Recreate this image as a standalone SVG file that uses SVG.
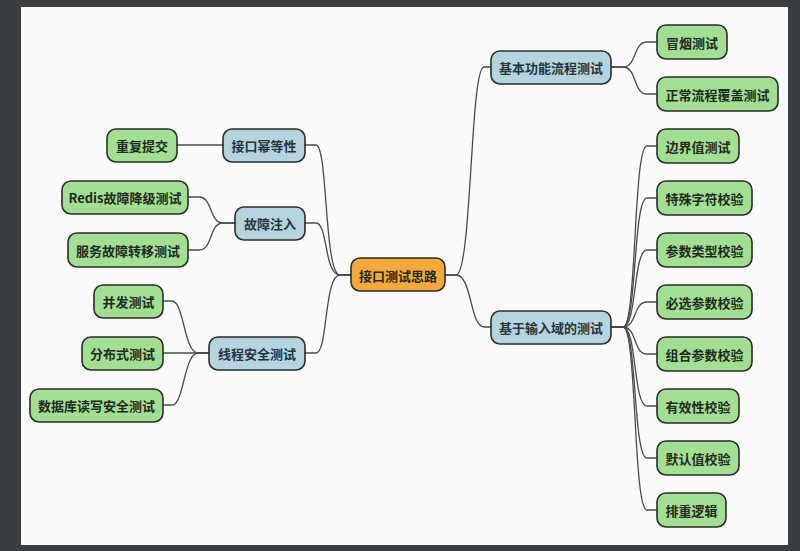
<svg xmlns="http://www.w3.org/2000/svg" width="800" height="551" viewBox="0 0 800 551">
<style>
.n rect{stroke:#2a2d2a;stroke-width:1.6}
.g rect{fill:#a2df92}
.b rect{fill:#b5d4df}
.o rect{fill:#f4a93c}
text{font-family:"Noto Sans CJK SC","Noto Sans",sans-serif;font-size:13px;font-weight:bold;fill:#1e2a1e;text-anchor:middle;dominant-baseline:central}
.b text{fill:#26343c}
#conn path{fill:none;stroke:#4a4a4a;stroke-width:1.3}
</style>
<rect x="0" y="0" width="800" height="551" fill="#3b3e41"/>
<rect x="21" y="7" width="767" height="538" fill="#fafafa"/>
<g id="conn">
<path d="M445,275 H456 C472,275 470,67 484,67 H491"/>
<path d="M445,275 H456 C472,275 470,327 484,327 H491"/>
<path d="M611,67 H623 C637,67 633,42 647,42 H657"/>
<path d="M611,67 H623 C637,67 633,94 647,94 H657"/>
<path d="M611,327 H623 C637,327 633,146 647,146 H657"/>
<path d="M611,327 H623 C637,327 633,198 647,198 H657"/>
<path d="M611,327 H623 C637,327 633,250 647,250 H657"/>
<path d="M611,327 H623 C637,327 633,302 647,302 H657"/>
<path d="M611,327 H623 C637,327 633,354 647,354 H657"/>
<path d="M611,327 H623 C637,327 633,406 647,406 H657"/>
<path d="M611,327 H623 C637,327 633,458 647,458 H657"/>
<path d="M611,327 H623 C637,327 633,510 647,510 H657"/>
<path d="M351,275 H340 C324,275 328,145 316,145 H305"/>
<path d="M351,275 H340 C324,275 328,223 316,223 H305"/>
<path d="M351,275 H340 C324,275 328,353 316,353 H305"/>
<path d="M223,145 H177"/>
<path d="M235,223 H223 C209,223 213,197 199,197 H188"/>
<path d="M235,223 H223 C209,223 213,250 199,250 H188"/>
<path d="M209,353 H198 C184,353 184,301 172,301 H163"/>
<path d="M209,353 H163"/>
<path d="M209,353 H198 C184,353 184,405 172,405 H163"/>
</g>
<g id="root" class="n o"><rect x="351" y="258" width="94" height="33" rx="9"/><text x="398" y="275">接口测试思路</text></g>
<g id="r1" class="n b"><rect x="491" y="51" width="120" height="33" rx="9"/><text x="551" y="67.5">基本功能流程测试</text></g>
<g id="r2" class="n b"><rect x="491" y="311" width="120" height="33" rx="9"/><text x="551" y="327.5">基于输入域的测试</text></g>
<g id="r1a" class="n g"><rect x="657" y="25" width="70" height="34" rx="9"/><text x="692" y="42">冒烟测试</text></g>
<g id="r1b" class="n g"><rect x="657" y="77" width="121" height="34" rx="9"/><text x="717.5" y="94">正常流程覆盖测试</text></g>
<g id="r2a" class="n g"><rect x="657" y="129" width="82" height="34" rx="9"/><text x="698" y="146">边界值测试</text></g>
<g id="r2b" class="n g"><rect x="657" y="181" width="95" height="34" rx="9"/><text x="704.5" y="198">特殊字符校验</text></g>
<g id="r2c" class="n g"><rect x="657" y="233" width="95" height="34" rx="9"/><text x="704.5" y="250">参数类型校验</text></g>
<g id="r2d" class="n g"><rect x="657" y="285" width="95" height="34" rx="9"/><text x="704.5" y="302">必选参数校验</text></g>
<g id="r2e" class="n g"><rect x="657" y="337" width="95" height="34" rx="9"/><text x="704.5" y="354">组合参数校验</text></g>
<g id="r2f" class="n g"><rect x="657" y="389" width="82" height="34" rx="9"/><text x="698" y="406">有效性校验</text></g>
<g id="r2g" class="n g"><rect x="657" y="441" width="82" height="34" rx="9"/><text x="698" y="458">默认值校验</text></g>
<g id="r2h" class="n g"><rect x="657" y="493" width="69" height="34" rx="9"/><text x="691.5" y="510">排重逻辑</text></g>
<g id="l1" class="n b"><rect x="223" y="129" width="82" height="33" rx="9"/><text x="264" y="145.5">接口幂等性</text></g>
<g id="l2" class="n b"><rect x="235" y="207" width="70" height="33" rx="9"/><text x="270" y="223.5">故障注入</text></g>
<g id="l3" class="n b"><rect x="209" y="337" width="96" height="33" rx="9"/><text x="257" y="353.5">线程安全测试</text></g>
<g id="l1a" class="n g"><rect x="107" y="129" width="70" height="33" rx="9"/><text x="142" y="145.5">重复提交</text></g>
<g id="l2a" class="n g"><rect x="62" y="181" width="126" height="33" rx="9"/><text x="125" y="197.5">Redis故障降级测试</text></g>
<g id="l2b" class="n g"><rect x="68" y="233" width="120" height="34" rx="9"/><text x="128" y="250">服务故障转移测试</text></g>
<g id="l3a" class="n g"><rect x="94" y="285" width="69" height="33" rx="9"/><text x="128.5" y="301.5">并发测试</text></g>
<g id="l3b" class="n g"><rect x="82" y="337" width="81" height="33" rx="9"/><text x="122.5" y="353.5">分布式测试</text></g>
<g id="l3c" class="n g"><rect x="30" y="389" width="133" height="33" rx="9"/><text x="96.5" y="405.5">数据库读写安全测试</text></g>
</svg>
